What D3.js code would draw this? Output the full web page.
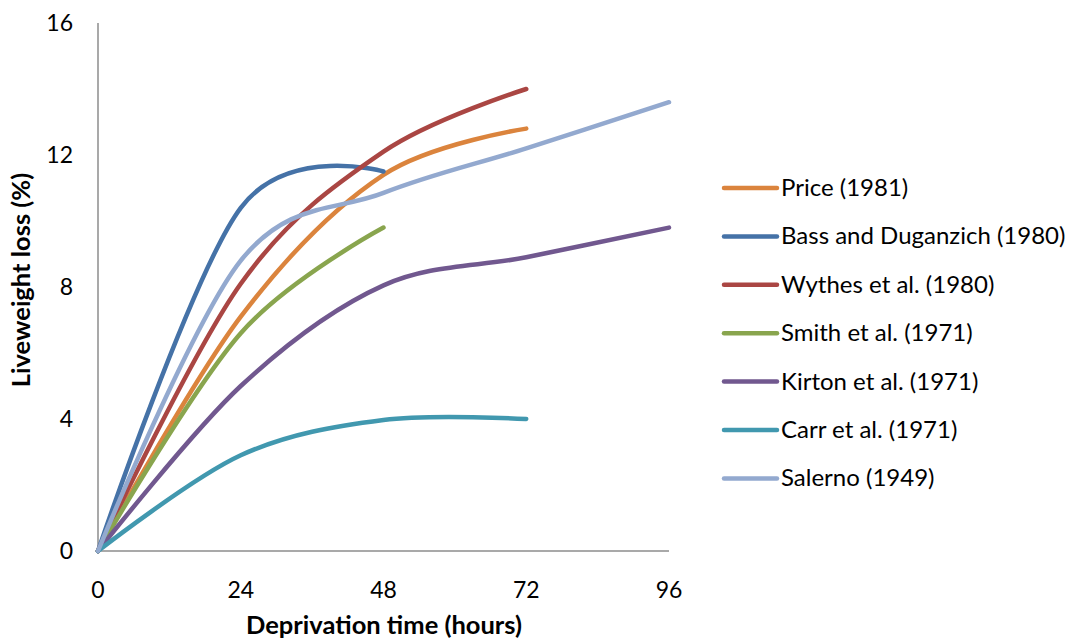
<!DOCTYPE html>
<html>
<head>
<meta charset="utf-8">
<script src="https://cdn.jsdelivr.net/npm/d3@7"></script>
<style>
  body { margin: 0; background: #fff; }
  svg { font-family: Lato, "Open Sans", sans-serif; }
</style>
</head>
<body>
<svg id="chart" width="1077" height="640"></svg>
<script>
// hours of deprivation
const hours = [0, 24, 48, 72, 96];
const xTicks = [0, 24, 48, 72, 96];
const yTicks = [0, 4, 8, 12, 16];

// liveweight loss (%) per study
const price = [0, 7.1, 11.4, 12.8];
const bass = [0, 10.4, 11.5];
const wythes = [0, 8.1, 12.1, 14.0];
const smith = [0, 6.6, 9.8];
const kirton = [0, 5.0, 8.05, 8.9, 9.8];
const carr = [0, 2.9, 3.97, 4.0];
const salerno = [0, 8.8, 10.85, 12.2, 13.6];

const names = ["Price (1981)", "Bass and Duganzich (1980)", "Wythes et al. (1980)",
  "Smith et al. (1971)", "Kirton et al. (1971)", "Carr et al. (1971)", "Salerno (1949)"];
const colors = ["#DB843D", "#4572A7", "#AA4643", "#89A54E", "#71588F", "#4198AF", "#93A9CF"];

const series = [price, bass, wythes, smith, kirton, carr, salerno].map((vals, i) => ({
  name: names[i],
  color: colors[i],
  values: vals.map((v, j) => ({ h: hours[j], v }))
}));

const svg = d3.select("#chart");

// scales
const x = d3.scaleLinear().domain([0, 96]).range([98, 669]);
const y = d3.scaleLinear().domain([0, 16]).range([551, 23]);

// axes, no tick marks (excel style)
svg.append("line")
  .attr("x1", x(0)).attr("x2", x(0))
  .attr("y1", y(16)).attr("y2", y(0))
  .attr("stroke", "#8c8c8c").attr("stroke-width", 1.5);
svg.append("line")
  .attr("x1", x(0)).attr("x2", x(96))
  .attr("y1", y(0)).attr("y2", y(0))
  .attr("stroke", "#8c8c8c").attr("stroke-width", 1.5);

svg.append("g").selectAll("text")
  .data(yTicks)
  .join("text")
  .attr("x", 73)
  .attr("y", d => y(d) + 8)
  .attr("text-anchor", "end")
  .style("font-size", "23px")
  .attr("fill", "#000")
  .text(d => d);

svg.append("g").selectAll("text")
  .data(xTicks)
  .join("text")
  .attr("x", d => x(d))
  .attr("y", 598)
  .attr("text-anchor", "middle")
  .style("font-size", "23px")
  .attr("fill", "#000")
  .text(d => d);

// axis titles
svg.append("text")
  .attr("x", 384)
  .attr("y", 634)
  .attr("text-anchor", "middle")
  .style("font-size", "25.5px")
  .style("font-weight", "bold")
  .text("Deprivation time (hours)");

svg.append("text")
  .attr("transform", "translate(30,280) rotate(-90)")
  .attr("text-anchor", "middle")
  .style("font-size", "25.5px")
  .style("font-weight", "bold")
  .text("Liveweight loss (%)");

// smoothed lines, excel-like cardinal spline
const line = d3.line()
  .x(d => x(d.h))
  .y(d => y(d.v))
  .curve(d3.curveCardinal.tension(0));

svg.append("g").selectAll("path")
  .data(series)
  .join("path")
  .attr("fill", "none")
  .attr("stroke", d => d.color)
  .attr("stroke-width", 4.5)
  .attr("stroke-linecap", "round")
  .attr("stroke-linejoin", "round")
  .attr("d", d => line(d.values));

// legend
const legend = svg.append("g");
series.forEach((s, i) => {
  const ly = 188 + i * 48.4;
  legend.append("line")
    .attr("x1", 724).attr("x2", 777)
    .attr("y1", ly).attr("y2", ly)
    .attr("stroke", s.color)
    .attr("stroke-width", 4.5)
    .attr("stroke-linecap", "round");
  legend.append("text")
    .attr("x", 781)
    .attr("y", ly + 8)
    .style("font-size", "24px")
    .text(s.name);
});
</script>
</body>
</html>
